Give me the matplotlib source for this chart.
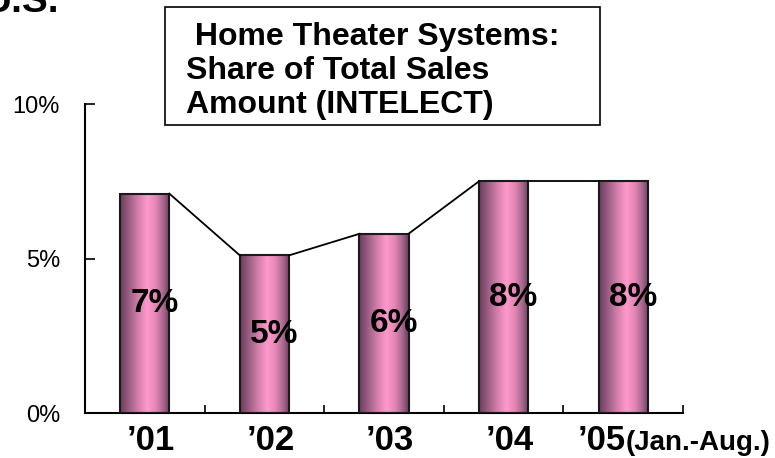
import numpy as np
import matplotlib
matplotlib.use("Agg")
import matplotlib.pyplot as plt
from matplotlib.colors import LinearSegmentedColormap
from matplotlib.patches import Rectangle
import matplotlib.transforms as mtransforms

plt.rcParams["font.family"] = ["Liberation Sans", "DejaVu Sans"]

# data
years = ["’01", "’02", "’03", "’04", "’05"]
shares = [7.1, 5.1, 5.8, 7.5, 7.5]
share_labels = ["7%", "5%", "6%", "8%", "8%"]
y_ticks = [0, 5, 10]
y_tick_labels = ["0%", "5%", "10%"]
title_lines = [" Home Theater Systems:", "Share of Total Sales", "Amount (INTELECT)"]

W, H = 775, 458
fig = plt.figure(figsize=(W / 100, H / 100), dpi=100)
ax = fig.add_axes([85 / W, 45 / H, 598 / W, 309 / H])

# cylinder-like shading across each bar
bar_cmap = LinearSegmentedColormap.from_list(
    "pinkbar",
    [(0.0, "#6a3c5b"), (0.15, "#93597c"), (0.35, "#cf7ca8"),
     (0.55, "#ff99cc"), (0.72, "#e486b5"), (0.88, "#a3658a"),
     (1.0, "#683a59")],
)
grad = np.linspace(0, 1, 256).reshape(1, -1)

bar_w = 0.41
x = np.arange(len(years))
bars = ax.bar(x, shares, width=bar_w, facecolor="none",
              edgecolor="#1a1a1a", linewidth=1.5, zorder=3)
for xi, h, b in zip(x, shares, bars):
    im = ax.imshow(grad, extent=[xi - bar_w / 2, xi + bar_w / 2, 0, h],
                   aspect="auto", cmap=bar_cmap, zorder=2)
    im.set_clip_path(b)

# series lines between bar tops
for i in range(len(x) - 1):
    ax.plot([x[i] + bar_w / 2, x[i + 1] - bar_w / 2],
            [shares[i], shares[i + 1]],
            color="black", linewidth=1.3, zorder=4)

for xi, h, lab in zip(x, shares, share_labels):
    ax.text(xi + 0.08, h / 2, lab, ha="center", va="center",
            fontsize=24, fontweight="bold", zorder=5)

ax.set_xlim(-0.5, 4.5)
ax.set_ylim(0, 10)

for s in ["top", "right"]:
    ax.spines[s].set_visible(False)
for s in ["left", "bottom"]:
    ax.spines[s].set_linewidth(1.5)
    ax.spines[s].set_color("black")

ax.set_xticks(np.arange(-0.5, 5, 1))
ax.set_xticklabels([])
ax.tick_params(axis="x", direction="in", length=6, width=1.2)
ax.set_yticks(y_ticks)
ax.set_yticklabels(y_tick_labels, fontsize=17)
ax.tick_params(axis="y", direction="in", length=7, width=1.2, pad=18)

# year labels under the categories
trans = mtransforms.blended_transform_factory(ax.transData, ax.transAxes)
for xi, yr in zip(x[:-1], years[:-1]):
    ax.text(xi + 0.05, -0.12, yr, transform=trans, ha="center",
            va="baseline", fontsize=25, fontweight="bold")
ax.text(x[-1] + 0.02, -0.12, years[-1], transform=trans, ha="right",
        va="baseline", fontsize=25, fontweight="bold")
ax.text(x[-1] + 0.02, -0.12, "(Jan.-Aug.)", transform=trans, ha="left",
        va="baseline", fontsize=20, fontweight="bold")

# title box
fig.patches.append(Rectangle((165 / W, 1 - 125 / H), 435 / W, 118 / H,
                             transform=fig.transFigure, fill=False,
                             edgecolor="black", linewidth=1.2))
for k, line in enumerate(title_lines):
    fig.text(186 / W, 1 - (45 + 34 * k) / H, line, ha="left",
             va="baseline", fontsize=23, fontweight="bold")

# cut-off heading at the top left
fig.text(-16 / W, 1 - 12 / H, "U.S.", ha="left", va="baseline",
         fontsize=28, fontweight="bold")

fig.savefig("out.png", dpi=100)
